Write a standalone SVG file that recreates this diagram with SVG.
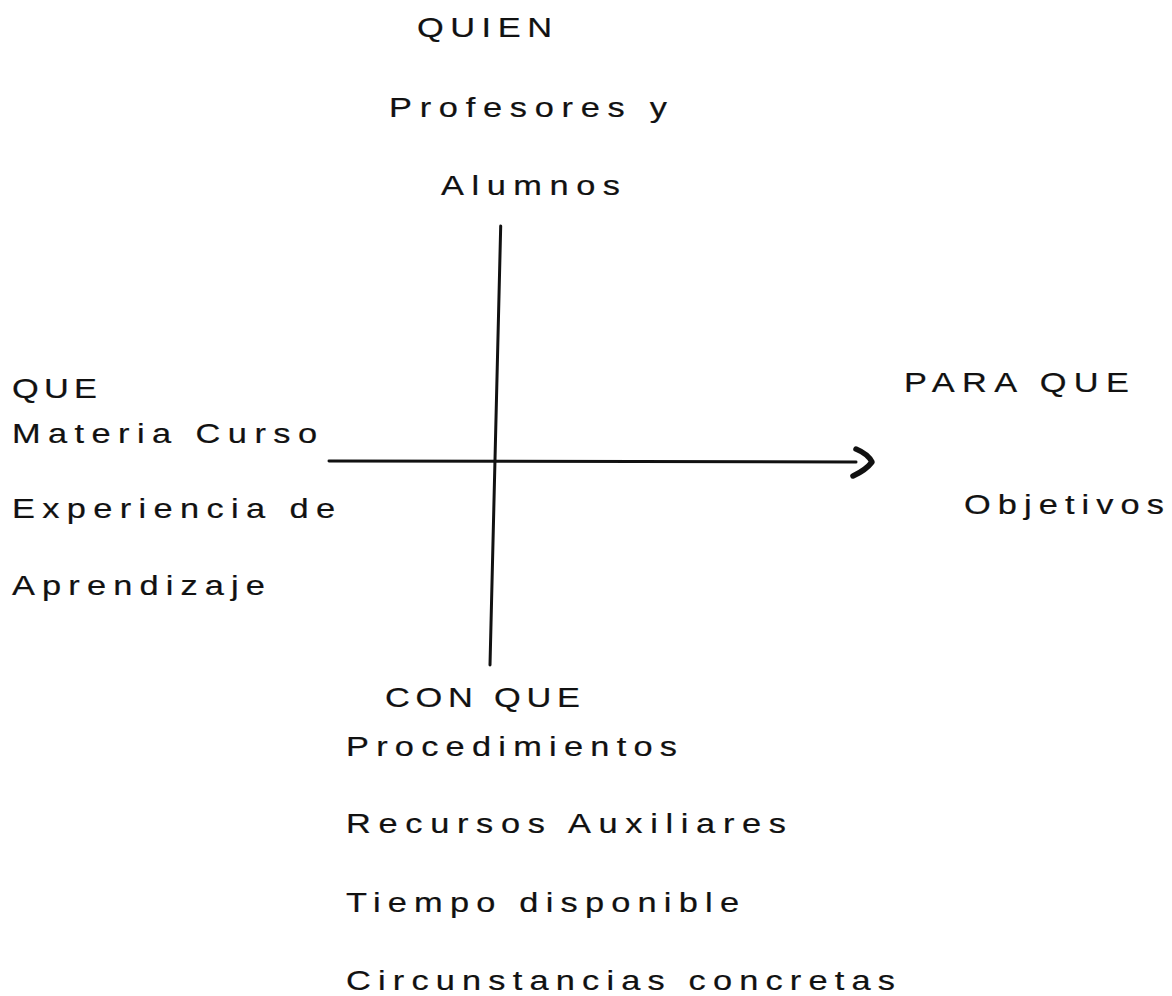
<svg xmlns="http://www.w3.org/2000/svg" width="1172" height="996" viewBox="0 0 1172 996">
<style>
  text { font-family: "Liberation Sans", Arial, sans-serif; font-size: 27.5px; fill: #111; stroke: #111; stroke-width: 0.2; }
  .ax { stroke: #111; stroke-width: 3; fill: none; stroke-linecap: round; }
  .head { stroke: #111; stroke-width: 5.5; fill: none; stroke-linecap: round; stroke-linejoin: round; }
</style>
<rect width="1172" height="996" fill="#fff"/>
<g id="connectors">
  <line class="ax" x1="500.7" y1="226" x2="490" y2="665"/>
  <line class="ax" x1="329" y1="461" x2="856" y2="462"/>
  <path class="head" d="M856,449 Q868,454 872,462 Q866,470 853,476"/>
</g>
<g id="quien">
  <text transform="translate(417,37) scale(1.25,1)" textLength="108" lengthAdjust="spacing">QUIEN</text>
  <text transform="translate(389,117) scale(1.25,1)" textLength="222.4" lengthAdjust="spacing">Profesores y</text>
  <text transform="translate(441,195) scale(1.25,1)" textLength="143.2" lengthAdjust="spacing">Alumnos</text>
</g>
<g id="que">
  <text transform="translate(12,398) scale(1.25,1)" textLength="68" lengthAdjust="spacing">QUE</text>
  <text transform="translate(12,443) scale(1.25,1)" textLength="244" lengthAdjust="spacing">Materia Curso</text>
  <text transform="translate(12,518) scale(1.25,1)" textLength="258.4" lengthAdjust="spacing">Experiencia de</text>
  <text transform="translate(12,595) scale(1.25,1)" textLength="202.4" lengthAdjust="spacing">Aprendizaje</text>
</g>
<g id="para-que">
  <text transform="translate(904,392) scale(1.25,1)" textLength="180" lengthAdjust="spacing">PARA QUE</text>
  <text transform="translate(964,514) scale(1.25,1)" textLength="160" lengthAdjust="spacing">Objetivos</text>
</g>
<g id="con-que">
  <text transform="translate(385,707) scale(1.25,1)" textLength="156" lengthAdjust="spacing">CON QUE</text>
  <text transform="translate(346,756) scale(1.25,1)" textLength="264.8" lengthAdjust="spacing">Procedimientos</text>
  <text transform="translate(346,833) scale(1.25,1)" textLength="352" lengthAdjust="spacing">Recursos Auxiliares</text>
  <text transform="translate(346,912) scale(1.25,1)" textLength="314.4" lengthAdjust="spacing">Tiempo disponible</text>
  <text transform="translate(346,990) scale(1.25,1)" textLength="439.2" lengthAdjust="spacing">Circunstancias concretas</text>
</g>
</svg>
